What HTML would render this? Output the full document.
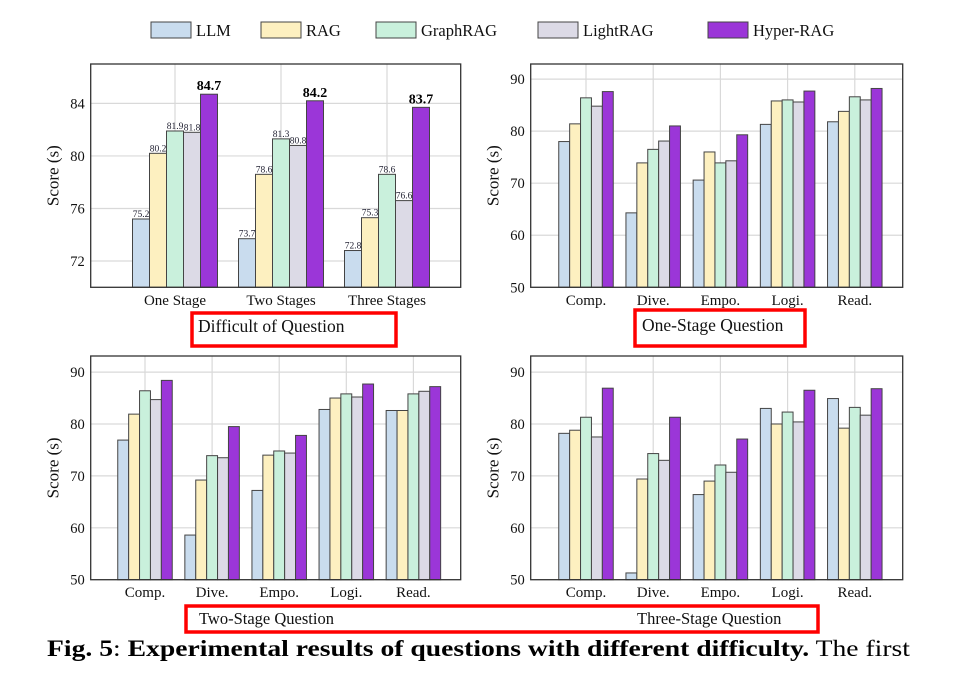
<!DOCTYPE html>
<html><head><meta charset="utf-8"><style>
html,body{margin:0;padding:0;background:#fff;}
body{width:967px;height:668px;overflow:hidden;position:relative;font-family:"Liberation Serif",serif;}
svg text{font-family:"Liberation Serif",serif;}
</style></head><body>
<svg id="fig" width="967" height="668" xmlns="http://www.w3.org/2000/svg">
</svg>
<script>
const series = ["LLM","RAG","GraphRAG","LightRAG","Hyper-RAG"];
const colors = ["#c9dcee","#fdf0c0","#c9f0dc","#dcdae6","#9b36d8"];
const catsA = ["One Stage","Two Stages","Three Stages"];
const valsA = [[75.2,73.7,72.8],[80.2,78.6,75.3],[81.9,81.3,78.6],[81.8,80.8,76.6],[84.7,84.2,83.7]];
const ticksA = [72,76,80,84];
const catsB = ["Comp.","Dive.","Empo.","Logi.","Read."];
const valsOne = [[78,64.3,70.6,81.3,81.8],[81.4,73.9,76,85.8,83.8],[86.4,76.5,73.9,86,86.6],[84.8,78.1,74.3,85.6,86],[87.6,81,79.3,87.7,88.2]];
const valsTwo = [[76.9,58.6,67.2,82.8,82.6],[81.9,69.2,74,85,82.6],[86.4,73.9,74.8,85.8,85.8],[84.7,73.5,74.4,85.2,86.3],[88.4,79.5,77.8,87.7,87.2]];
const valsThree = [[78.2,51.3,66.4,83,84.9],[78.8,69.4,69,80,79.2],[81.3,74.3,72.1,82.3,83.2],[77.5,73,70.7,80.4,81.7],[86.9,81.3,77.1,86.5,86.8]];
const ticksB = [50,60,70,80,90];

const NS="http://www.w3.org/2000/svg";
const svg=document.getElementById('fig');
function mk(tag,attrs,parent,text){const e=document.createElementNS(NS,tag);for(const k in attrs)e.setAttribute(k,attrs[k]);if(text!==undefined)e.textContent=text;(parent||svg).appendChild(e);return e;}

function chart(name,px0,px1,py0,py1,ymin,ymax,cats,vals,ticks,c0,step,bw,labels,xlabY){
  const g=mk('g',{},svg);
  
  
  const y=v=>py1-(v-ymin)/(ymax-ymin)*(py1-py0);
  const x=i=>c0+i*step;
  ticks.forEach(t=>{
    const l=mk('line',{x1:px0,x2:px1,y1:y(t),y2:y(t),stroke:'#d9d9d9','stroke-width':1.2},g);
    
    
    const tx=mk('text',{x:px0-6,y:y(t)+5,'text-anchor':'end','font-size':14.5,fill:'#111'},g,String(t));
    
    
  });
  cats.forEach((c,i)=>{
    const l=mk('line',{x1:x(i),x2:x(i),y1:py0,y2:py1,stroke:'#d9d9d9','stroke-width':1.2},g);
    
    
  });
  vals.forEach((sv,s)=>{
    sv.forEach((v,i)=>{
      const bx=x(i)-2.5*bw+s*bw;
      const r=mk('rect',{x:bx,y:y(v),width:bw,height:py1-y(v),fill:colors[s],stroke:'#444','stroke-width':1},g);
      
      
      if(labels){
        const big=s===4;
        const t=mk('text',{x:bx+bw/2,y:y(v)-(big?4:2),'text-anchor':'middle','font-size':big?14:9.5,'font-weight':big?'bold':'normal',fill:big?'#000':'#223'},g,v.toFixed(1));
        
        
      }
    });
  });
  cats.forEach((c,i)=>{
    const t=mk('text',{x:x(i),y:xlabY,'text-anchor':'middle','font-size':15,fill:'#111'},g,c);
    
    
  });
  const fr=mk('rect',{x:px0,y:py0,width:px1-px0,height:py1-py0,fill:'none',stroke:'#333','stroke-width':1.3},g);
  
  
  const cy=(py0+py1)/2;
  const yt=mk('text',{x:px0-32,y:cy,'text-anchor':'middle','font-size':17,fill:'#111',transform:`rotate(-90 ${px0-32} ${cy})`},g,'Score (s)');
  
  
}
chart('chart-difficulty',90.7,460.7,64,287.3,70,87,catsA,valsA,ticksA,175,106,17,true,305);
chart('chart-one-stage',530.7,902.7,64,287.3,50,92.9,catsB,valsOne,ticksB,586,67.2,10.9,false,305);
chart('chart-two-stage',90.7,460.7,356,579.7,50,93.1,catsB,valsTwo,ticksB,145,67.1,10.9,false,597);
chart('chart-three-stage',530.7,902.7,356,579.7,50,93.1,catsB,valsThree,ticksB,586,67.2,10.9,false,597);

// legend
const legX=[151,261,376,538,708];
series.forEach((s,i)=>{
  const r=mk('rect',{x:legX[i],y:22,width:40,height:16,fill:colors[i],stroke:'#444','stroke-width':1});
  
  
  const t=mk('text',{x:legX[i]+45,y:36,'font-size':16.5,fill:'#111'},null,s);
  
  
});
// red boxes
function box(name,x,y,w,h){const r=mk('rect',{x:x,y:y,width:w,height:h,fill:'none',stroke:'#f00','stroke-width':3.5});}
function lab(name,x,yb,s,size){const t=mk('text',{x:x,y:yb,'font-size':size,fill:'#111'},null,s);}
box('difficulty-title-box',192,313,204,33);
lab('difficulty-subtitle',198,332,'Difficult of Question',17.5);
box('one-stage-title-box',635,310,170,36);
lab('one-stage-subtitle',642,331,'One-Stage Question',17.5);
box('bottom-titles-box',186,606,632,26);
lab('two-stage-subtitle',199,624,'Two-Stage Question',16.5);
lab('three-stage-subtitle',637,624,'Three-Stage Question',16.5);
// caption
const cap=mk('text',{x:47,y:656,'font-size':23,fill:'#000',textLength:863,lengthAdjust:'spacingAndGlyphs'});


mk('tspan',{'font-weight':'bold'},cap,'Fig. 5');
mk('tspan',{},cap,': ');
mk('tspan',{'font-weight':'bold'},cap,'Experimental results of questions with different difficulty.');
mk('tspan',{},cap,' The first');
const cap2=mk('text',{x:47,y:684,'font-size':22,fill:'#000',textLength:863,lengthAdjust:'spacingAndGlyphs'},null,'and the remaining three represent the results across the different difficulty levels');


</script>
</body></html>
